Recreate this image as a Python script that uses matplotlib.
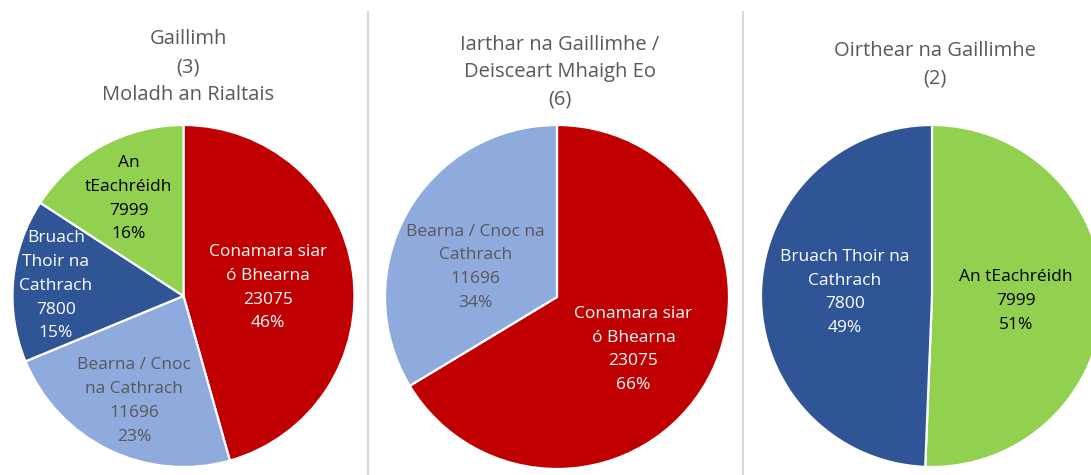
import numpy as np
import matplotlib; matplotlib.use("Agg")
import matplotlib.pyplot as plt
from matplotlib.lines import Line2D

plt.rcParams.update({"font.family": ["Open Sans", "DejaVu Sans"]})

RED, LBLUE, DBLUE, GREEN = "#C00000", "#8FAADC", "#2F5597", "#92D050"
GREY = "#595959"

# panel 1: Gaillimh (3)
title1 = "Gaillimh\n(3)\nMoladh an Rialtais"
names1 = ["Conamara siar\nó Bhearna", "Bearna / Cnoc\nna Cathrach", "Bruach\nThoir na\nCathrach", "An\ntEachréidh"]
vals1 = [23075, 11696, 7800, 7999]
cols1 = [RED, LBLUE, DBLUE, GREEN]
txt1 = ["white", GREY, "white", "black"]

# panel 2: Iarthar na Gaillimhe / Deisceart Mhaigh Eo (6)
title2 = "Iarthar na Gaillimhe /\nDeisceart Mhaigh Eo\n(6)"
names2 = ["Conamara siar\nó Bhearna", "Bearna / Cnoc na\nCathrach"]
vals2 = [23075, 11696]
cols2 = [RED, LBLUE]
txt2 = ["white", GREY]

# panel 3: Oirthear na Gaillimhe (2)
title3 = "Oirthear na Gaillimhe\n(2)"
names3 = ["An tEachréidh", "Bruach Thoir na\nCathrach"]
vals3 = [7999, 7800]
cols3 = [GREEN, DBLUE]
txt3 = ["black", "white"]

W, H = 1091, 475
fig = plt.figure(figsize=(W/100, H/100), dpi=100)

def pie(cx, cy, r, vals, names, cols, tcols, dists, nudge):
    ax = fig.add_axes([(cx-r)/W, (H-cy-r)/H, 2*r/W, 2*r/H])
    wedges, _ = ax.pie(vals, colors=cols, startangle=90, counterclock=False, radius=1,
                       wedgeprops=dict(edgecolor="white", linewidth=1.6))
    tot = sum(vals)
    for w, v, n, c, d, (nx, ny) in zip(wedges, vals, names, tcols, dists, nudge):
        a = np.deg2rad((w.theta1+w.theta2)/2)
        ax.text(d*np.cos(a) + nx, d*np.sin(a) - 0.02 + ny, f"{n}\n{v}\n{round(100*v/tot)}%",
                ha="center", va="center", color=c, fontsize=12.5, linespacing=1.65)
    ax.set_xlim(-1, 1); ax.set_ylim(-1, 1); ax.axis("off")

pie(183.5, 296, 171, vals1, names1, cols1, txt1, [0.5, 0.66, 0.75, 0.67],
    [(0, 0), (0, 0), (0, 0.01), (0, 0)])
pie(557, 297, 172, vals2, names2, cols2, txt2, [0.51, 0.51],
    [(0, -0.035), (-0.03, -0.058)])
pie(932, 296, 171, vals3, names3, cols3, txt3, [0.49, 0.51],
    [(0, 0), (0, 0.03)])

for x, y, t in [(188, 67, title1), (560, 72, title2), (935, 65, title3)]:
    fig.text(x/W, 1-y/H, t, ha="center", va="center", color=GREY, fontsize=14.5, linespacing=1.5)

for x in [368, 743]:
    fig.add_artist(Line2D([x/W, x/W], [0, 1-12/H], color="#D9D9D9", lw=1.5))

fig.savefig("out.png", dpi=100)
